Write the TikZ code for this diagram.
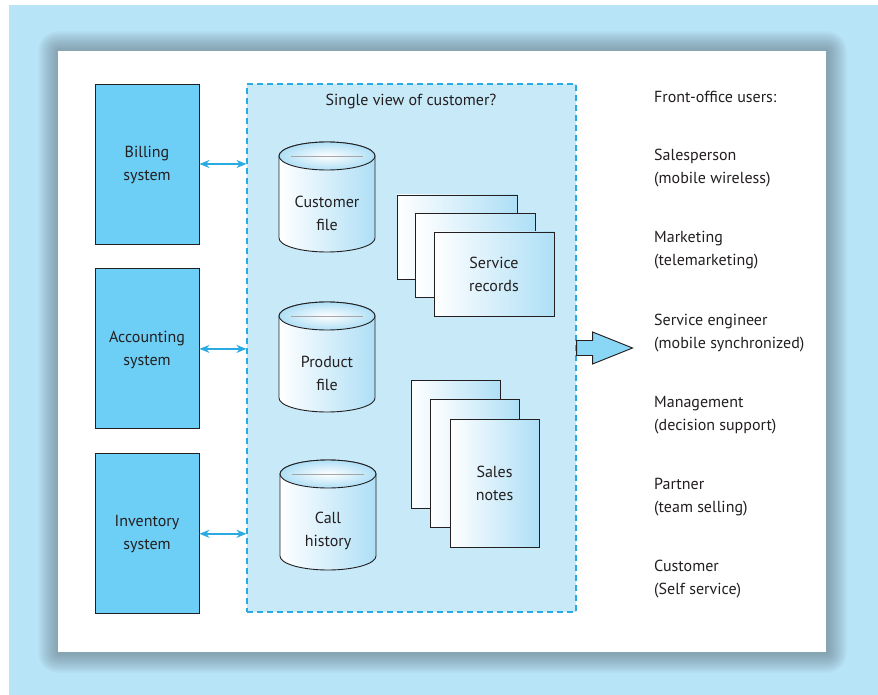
\documentclass[tikz,border=0pt]{standalone}
\usepackage{fontspec}
\setmainfont{PT Sans}
\usetikzlibrary{arrows.meta,positioning,calc}
\definecolor{bgblue}{HTML}{B8E4F8}
\definecolor{sysblue}{HTML}{6DCFF6}
\definecolor{viewblue}{HTML}{C7E9F8}
\definecolor{dashblue}{HTML}{29ABE2}
\definecolor{pageblue}{HTML}{AEDFF6}
\definecolor{arrowblue}{HTML}{8AD6F5}
\definecolor{inkgray}{HTML}{231F20}
\definecolor{shadowgray}{HTML}{5F6F78}
\newcommand\drum[4]{% name, centre x, centre y, label
  \shade[left color=white, right color=pageblue, draw=inkgray, line width=0.9]
    (#2-48,-#3+41) -- (#2-48,-#3-41) arc[start angle=180, end angle=360, x radius=48, y radius=14]
    -- (#2+48,-#3+41) arc[start angle=0, end angle=180, x radius=48, y radius=14] -- cycle;
  \shade[inner color=white, outer color=pageblue, draw=inkgray, line width=0.9]
    (#2,-#3+41) ellipse[x radius=48, y radius=14];
  \draw[gray!70, line width=0.6] (#2-36,-#3+41) -- (#2+36,-#3+41);
  \node[align=center] (#1) at (#2,-#3-16) {#4};
}

\begin{document}
\begin{tikzpicture}[x=1pt, y=1pt, font=\fontsize{16}{23}\selectfont, text=inkgray,
    inner sep=0, >={Stealth[length=10, width=8]}]
    \tikzstyle{sys}  = [rectangle, draw=inkgray, fill=sysblue, line width=0.9, align=center,
                        minimum width=104, minimum height=160, text depth=2pt]
    \tikzstyle{view} = [rectangle, draw=dashblue, fill=viewblue, line width=1.1,
                        dash pattern=on 6pt off 4pt, minimum width=329, minimum height=528]
    \tikzstyle{page} = [rectangle, draw=inkgray, left color=white, right color=pageblue,
                        line width=0.9, align=center]
    \tikzstyle{link} = [<->, draw=dashblue, line width=1.4]
    \tikzstyle{user} = [anchor=west, align=left, yshift=-2]

    \useasboundingbox (0,0) rectangle (878,-695);
    \fill[bgblue] (9,-5) rectangle (878,-695);
    \foreach \s in {20,19,...,1}
      \fill[shadowgray, opacity=0.03, rounded corners=\s] (58-\s,-51+\s) rectangle (826+\s+1,-652-\s-1);
    \fill[white] (58,-51) rectangle (826,-652);

    \node[sys] (bill) at (147,-164) {Billing\\system};
    \node[sys, below=24pt of bill] (acct) {Accounting\\system};
    \node[sys, below=24pt of acct] (inv)  {Inventory\\system};

    \node[view] (sv) at (411.5,-348) {};
    \node (title) at (411,-102) {Single view of customer?};

    \draw[link] (bill.east) -- (bill.east -| sv.west);
    \draw[link] (acct.east) -- (acct.east -| sv.west);
    \draw[link] (inv.east)  -- (inv.east -| sv.west);

    \drum{cust}{327}{197}{Customer\\file}
    \drum{prod}{327}{357}{Product\\file}
    \drum{call}{328}{515}{Call\\history}

    \node[page, minimum width=120, minimum height=84] (sr1) at (457,-237) {};
    \node[page, minimum width=120, minimum height=84] (sr2) at ([shift={(18.5,-18.5)}]sr1) {};
    \node[page, minimum width=120, minimum height=84] (sr3) at ([shift={(18.5,-18.5)}]sr2) {Service\\records};

    \node[page, minimum width=89, minimum height=128] (sn1) at (455.5,-444.5) {};
    \node[page, minimum width=89, minimum height=128] (sn2) at ([shift={(19.5,-19)}]sn1) {};
    \node[page, minimum width=89, minimum height=128] (sn3) at ([shift={(19.5,-19.5)}]sn2) {Sales\\notes};

    \filldraw[fill=arrowblue, draw=inkgray, line width=0.9] (sv.east) ++(0,7.5) -- ++(16,0) -- ++(0,8.5)
      -- ++(40,-16) -- ++(-40,-16) -- ++(0,8.5) -- ++(-16,0) -- cycle;

    \node[user] (head) at (654,-95)    {Front-office users:};
    \node[user] (u1)   at (654,-166.5) {Salesperson\\(mobile wireless)};
    \node[user] (u2)   at (654,-248)   {Marketing\\(telemarketing)};
    \node[user] (u3)   at (654,-331)   {Service engineer\\(mobile synchronized)};
    \node[user] (u4)   at (654,-413)   {Management\\(decision support)};
    \node[user] (u5)   at (654,-495)   {Partner\\(team selling)};
    \node[user] (u6)   at (654,-577)   {Customer\\(Self service)};
\end{tikzpicture}
\end{document}
